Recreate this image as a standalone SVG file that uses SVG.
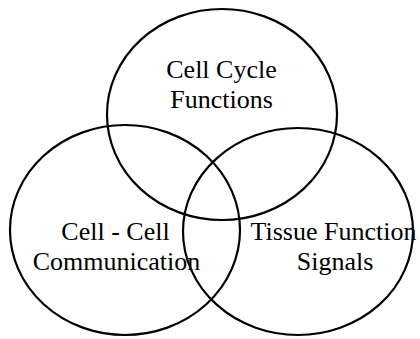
<svg xmlns="http://www.w3.org/2000/svg" width="420" height="339" viewBox="0 0 420 339">
<style>
.c{fill:none;stroke:#000;stroke-width:2.2}
.t{font-family:'Liberation Serif','Times New Roman',Times,'DejaVu Serif',serif;font-size:26px;fill:#000;text-anchor:middle}
</style>
<rect width="420" height="339" fill="#fff"/>
<g id="cell-cycle">
<ellipse class="c" cx="222" cy="114.5" rx="115" ry="105.5"/>
<text class="t" x="221.5" y="78" font-family="Liberation Serif, serif">Cell Cycle</text>
<text class="t" x="221.5" y="108" font-family="Liberation Serif, serif">Functions</text>
</g>
<g id="cell-cell">
<ellipse class="c" cx="125" cy="230" rx="115" ry="105"/>
<text class="t" x="115.5" y="240" font-family="Liberation Serif, serif">Cell - Cell</text>
<text class="t" x="116.5" y="270" font-family="Liberation Serif, serif">Communication</text>
</g>
<g id="tissue">
<ellipse class="c" cx="298" cy="231.5" rx="115" ry="103.5"/>
<text class="t" x="333.5" y="240" font-family="Liberation Serif, serif">Tissue Function</text>
<text class="t" x="335" y="270" font-family="Liberation Serif, serif">Signals</text>
</g>
<g id="connectors"/>
</svg>
